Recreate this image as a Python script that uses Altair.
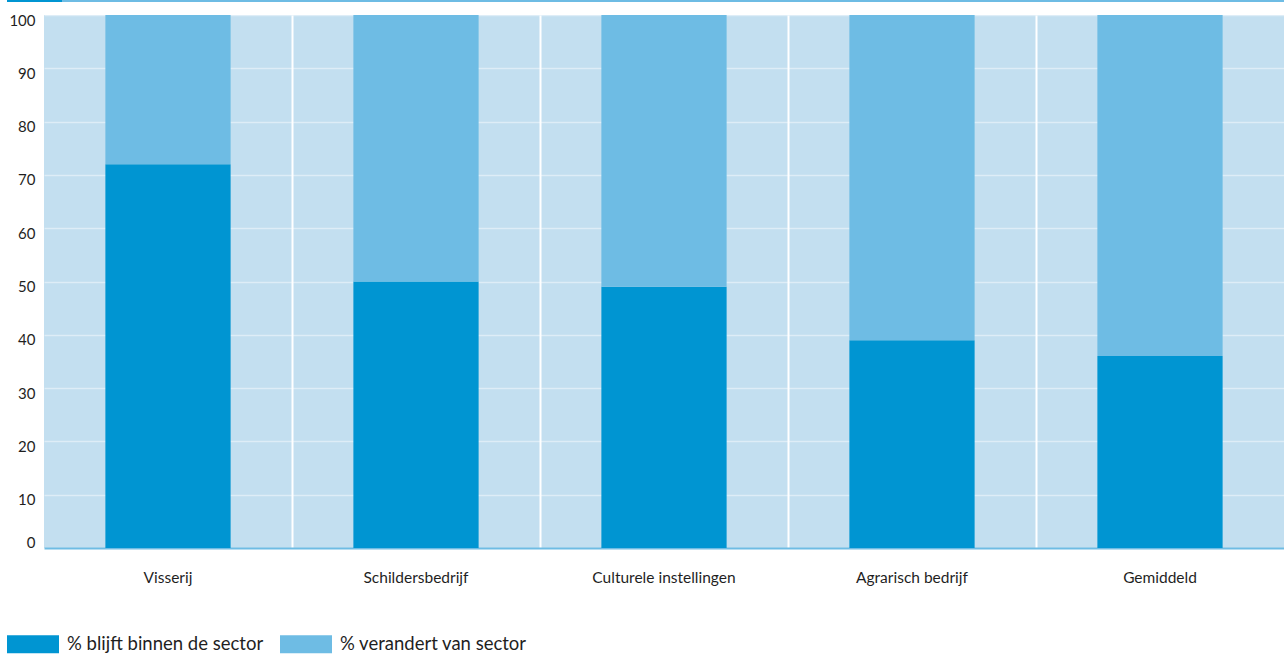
import altair as alt
import pandas as pd

# Share of workers who stay in their sector vs. switch sector
categories = ["Visserij", "Schildersbedrijf", "Culturele instellingen", "Agrarisch bedrijf", "Gemiddeld"]
blijft = [72, 50, 49, 39, 36]
verandert = [28, 50, 51, 61, 64]
series = ["% blijft binnen de sector", "% verandert van sector"]
y_ticks = list(range(0, 101, 10))

DARK = "#0095d2"
LIGHT = "#6ebce4"
BG = "#c3dff0"
TEXT = "#1f1f1f"
FONT = "Lato"

rows = []
for cat, a, b in zip(categories, blijft, verandert):
    rows.append({"categorie": cat, "reeks": series[0], "waarde": a, "volgorde": 0})
    rows.append({"categorie": cat, "reeks": series[1], "waarde": b, "volgorde": 1})
df = pd.DataFrame(rows)

W, H = 1240, 533

bars = alt.Chart(df).mark_bar(width={"band": 0.505}).encode(
    x=alt.X(
        "categorie:N",
        sort=categories,
        title=None,
        scale=alt.Scale(paddingInner=0, paddingOuter=0),
        axis=alt.Axis(
            labelAngle=0,
            labelFont=FONT,
            labelFontSize=15.5,
            labelColor=TEXT,
            labelPadding=22,
            labelLimit=0,
            ticks=False,
            domain=True,
            domainColor=LIGHT,
            domainWidth=2,
            grid=True,
            gridColor="white",
            gridWidth=2,
            bandPosition=0,
            gridOpacity={"condition": {"test": "datum.index === 0", "value": 0}, "value": 1},
        ),
    ),
    y=alt.Y(
        "waarde:Q",
        stack="zero",
        title=None,
        scale=alt.Scale(domain=[0, 100], nice=False),
        axis=alt.Axis(
            values=y_ticks,
            labelFont=FONT,
            labelFontSize=15,
            labelColor=TEXT,
            labelPadding=9,
            labelOffset={"condition": {"test": "datum.value === 0", "value": -6}, "value": 5},
            ticks=False,
            domain=False,
            grid=True,
            gridColor="white",
            gridOpacity=0.45,
            gridWidth=1.5,
        ),
    ),
    color=alt.Color(
        "reeks:N",
        sort=series,
        scale=alt.Scale(domain=series, range=[DARK, LIGHT]),
        legend=alt.Legend(
            title=None,
            orient="none",
            direction="horizontal",
            legendX=-37,
            legendY=603,
            symbolType="M-1,-0.35H1V0.35H-1Z",
            symbolSize=2704,
            symbolStrokeWidth=0,
            symbolOpacity=1,
            labelFont=FONT,
            labelFontSize=18.5,
            labelColor=TEXT,
            labelOffset=8,
            labelLimit=0,
            columnPadding=16,
        ),
    ),
    order=alt.Order("volgorde:Q"),
)

# thin header strip above the chart
strip_dark = alt.Chart(df).mark_rule(color=DARK, strokeWidth=2).encode(
    x=alt.value(-37), x2=alt.value(18), y=alt.value(-14)
)
strip_light = alt.Chart(df).mark_rule(color=LIGHT, strokeWidth=2).encode(
    x=alt.value(18), x2=alt.value(W), y=alt.value(-14)
)

chart = alt.layer(bars, strip_dark, strip_light).properties(
    width=W,
    height=H,
    autosize=alt.AutoSizeParams(type="none"),
    padding={"left": 44, "top": 15, "right": 0, "bottom": 107},
    background="white",
).configure_view(fill=BG, stroke=None)

chart.save("out.html", embed_options={"renderer": "svg", "actions": False})
